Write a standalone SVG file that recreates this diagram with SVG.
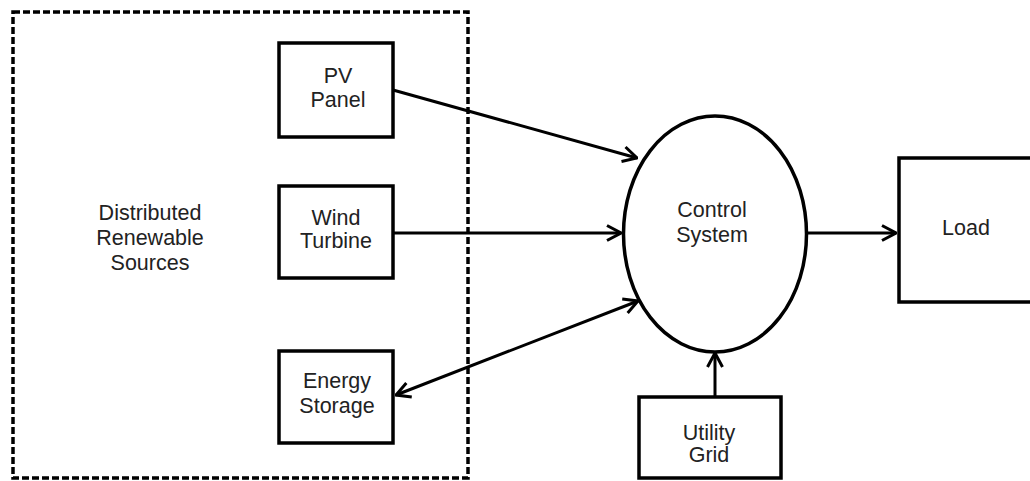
<svg xmlns="http://www.w3.org/2000/svg" width="1030" height="481" viewBox="0 0 1030 481">
<defs>
<marker id="ah" viewBox="0 0 16 18" refX="15" refY="9" markerWidth="16" markerHeight="18" markerUnits="userSpaceOnUse" orient="auto-start-reverse">
<path d="M1,1.5 L15,9 L1,16.5" fill="none" stroke="#000" stroke-width="3" stroke-linejoin="miter"/>
</marker>
<style>
.box{fill:#fff;stroke:#000;stroke-width:3.5}
.lbl{font-family:"Liberation Sans",Arial,sans-serif;font-size:21.5px;fill:#222;text-anchor:middle}
.con{stroke:#000;stroke-width:3;fill:none}
</style>
</defs>
<rect width="1030" height="481" fill="#fff"/>
<g id="distributed-sources">
<rect x="13" y="12" width="455" height="466" fill="none" stroke="#000" stroke-width="3.5" stroke-dasharray="7 3"/>
<text class="lbl" x="150" y="220">Distributed</text>
<text class="lbl" x="150" y="245">Renewable</text>
<text class="lbl" x="150" y="270">Sources</text>
</g>
<g id="connectors">
<line class="con" x1="393" y1="90" x2="637" y2="158" marker-end="url(#ah)"/>
<line class="con" x1="393" y1="233" x2="621" y2="233" marker-end="url(#ah)"/>
<line class="con" x1="396" y1="395" x2="638" y2="301" marker-start="url(#ah)" marker-end="url(#ah)"/>
<line class="con" x1="807" y1="233" x2="896" y2="233" marker-end="url(#ah)"/>
<line class="con" x1="715" y1="397" x2="715" y2="353" marker-end="url(#ah)"/>
</g>
<g id="pv-panel">
<rect class="box" x="279" y="43" width="114" height="94"/>
<text class="lbl" x="338" y="83">PV</text>
<text class="lbl" x="338" y="107">Panel</text>
</g>
<g id="wind-turbine">
<rect class="box" x="279" y="186" width="114" height="92"/>
<text class="lbl" x="336" y="225">Wind</text>
<text class="lbl" x="336" y="248">Turbine</text>
</g>
<g id="energy-storage">
<rect class="box" x="279" y="351" width="114" height="92"/>
<text class="lbl" x="337" y="388">Energy</text>
<text class="lbl" x="337" y="413">Storage</text>
</g>
<g id="control-system">
<ellipse cx="715" cy="234" rx="91.5" ry="118" fill="#fff" stroke="#000" stroke-width="3.5"/>
<text class="lbl" x="712" y="217">Control</text>
<text class="lbl" x="712" y="242">System</text>
</g>
<g id="load">
<rect class="box" x="899" y="158" width="145" height="144"/>
<text class="lbl" x="966" y="235">Load</text>
</g>
<g id="utility-grid">
<rect class="box" x="639" y="397" width="142" height="81"/>
<text class="lbl" x="709" y="440">Utility</text>
<text class="lbl" x="709" y="462">Grid</text>
</g>
</svg>
